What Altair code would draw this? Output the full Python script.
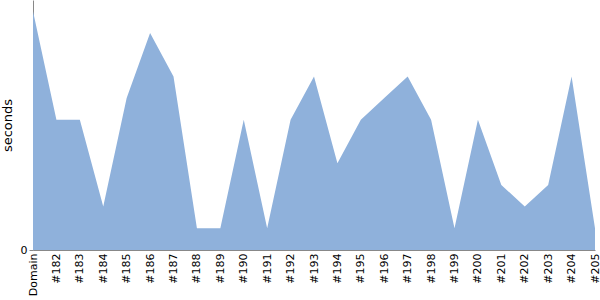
import altair as alt
import pandas as pd

categories = ["Domain", "#182", "#183", "#184", "#185", "#186", "#187", "#188",
              "#189", "#190", "#191", "#192", "#193", "#194", "#195", "#196",
              "#197", "#198", "#199", "#200", "#201", "#202", "#203", "#204", "#205"]
seconds = [11, 6, 6, 2, 7, 10, 8, 1, 1, 6, 1, 6, 8, 4, 6, 7, 8, 6, 1, 6, 3, 2, 3, 8, 1]
y_ticks = [0]

df = pd.DataFrame({"build": categories, "seconds": seconds})

chart = alt.Chart(df).mark_area(
    color="#8FB1DB", opacity=1, interpolate="linear"
).encode(
    x=alt.X("build:N", sort=categories,
            scale=alt.Scale(type="point", padding=0),
            axis=alt.Axis(title=None, labelAngle=270, labelAlign="right",
                          labelBaseline="middle", labelFontSize=11,
                          labelFont="DejaVu Sans", labelColor="black",
                          labelPadding=3, ticks=False, domainColor="#888",
                          grid=False, labelOverlap=False)),
    y=alt.Y("seconds:Q", scale=alt.Scale(domain=[0, 11.52], nice=False),
            axis=alt.Axis(values=y_ticks, title="seconds", titleFontWeight="normal",
                          titleFontSize=13, titleFont="DejaVu Sans", titleColor="black",
                          labelFont="DejaVu Sans", labelFontSize=11, labelColor="black",
                          tickColor="#888", tickSize=4, domainColor="#888", grid=False,
                          titlePadding=6))
).properties(
    width=562, height=250,
    autosize=alt.AutoSizeParams(type="none"),
    padding={"left": 33, "top": 0, "right": 5, "bottom": 50}
).configure_view(stroke=None)

chart.save("out.html", embed_options={"renderer": "svg", "actions": False})
